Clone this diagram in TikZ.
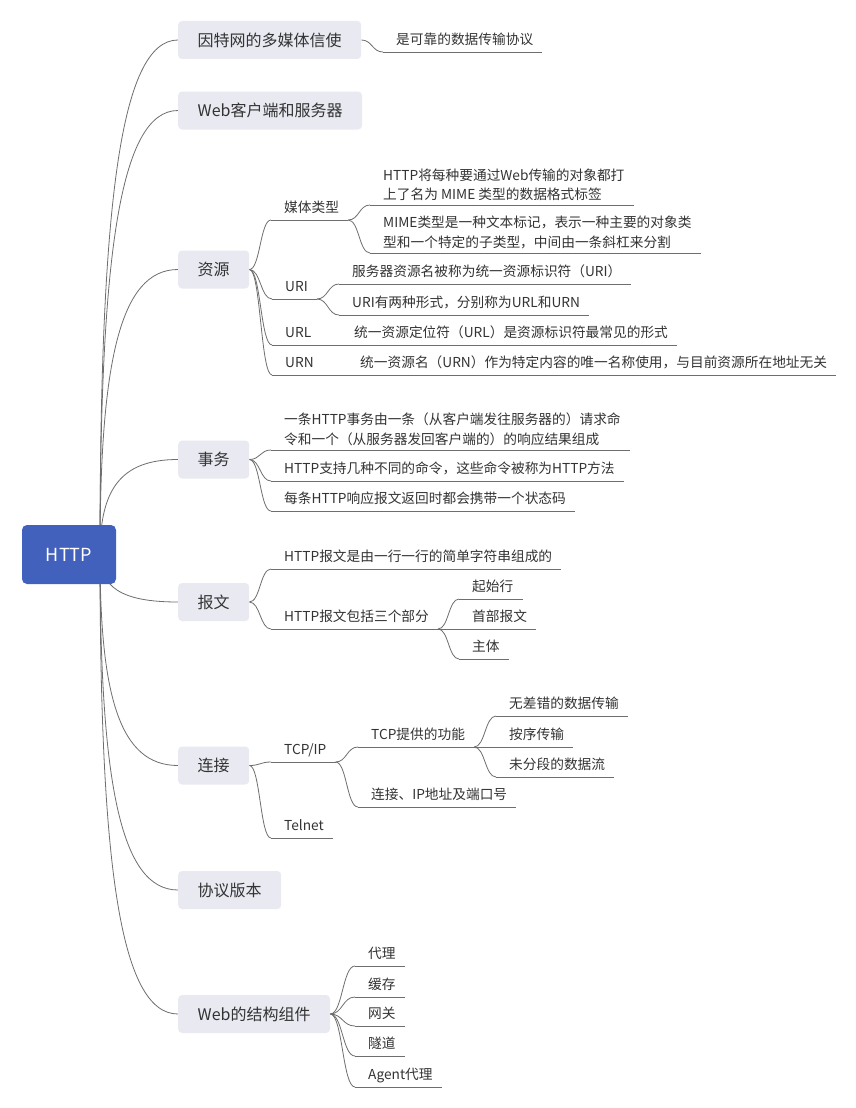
\documentclass[tikz,border=0pt]{standalone}
\usepackage{fontspec}
\setmainfont{Noto Sans CJK SC}
\usetikzlibrary{calc,backgrounds}
\definecolor{rootblue}{RGB}{66,97,189}
\definecolor{topicfill}{RGB}{232,233,241}
\definecolor{linkgray}{RGB}{110,110,110}
\definecolor{ink}{RGB}{51,51,51}

\begin{document}
\begin{tikzpicture}[x=1pt,y=-1pt,
  link/.style={draw=linkgray, line width=0.8pt},
  % main branches: leave the hub vertically, arrive horizontally
  trunk/.style={link, to path={.. controls ($(\tikztostart)!0.67!(\tikztostart|-\tikztotarget)$)
      and ($(\tikztotarget)!0.75!(\tikztotarget-|\tikztostart)$) .. (\tikztotarget)}},
  % sub branches: symmetric S-curve
  twig/.style={link, to path={.. controls ($(\tikztostart)!0.5!(\tikztostart-|\tikztotarget)$)
      and ($(\tikztotarget)!0.5!(\tikztotarget-|\tikztostart)$) .. (\tikztotarget)}},
  rootbox/.style={fill=rootblue, rounded corners=5pt, minimum width=94pt, minimum height=59pt,
      text=white, font=\fontsize{18}{21}\selectfont},
  topic/.style={fill=topicfill, rounded corners=4pt, anchor=west, inner xsep=19.5pt,
      minimum height=38pt, text=ink, font=\fontsize{16}{19}\selectfont},
  leaf/.style={anchor=south west, inner xsep=9pt, inner ysep=4pt, text height=10pt,
      text depth=3pt, text=ink, font=\fontsize{13.7}{19.5}\selectfont,
      execute at begin node=\hspace*{4pt}},
  leaftwo/.style={anchor=south west, inner xsep=9pt, inner ysep=4pt, align=left,
      text=ink, font=\fontsize{13.7}{19.5}\selectfont},
]
\useasboundingbox (0,0) rectangle (855,1108);

% central topic
\node[rootbox] (root) at (69,554.5) {HTTP};
\coordinate (hub) at (100,554);

% main topics
\node[topic] (n1) at (178,40)    {因特网的多媒体信使};
\node[topic] (n2) at (178,110.5) {Web客户端和服务器};
\node[topic] (n3) at (178,269.5) {资源};
\node[topic] (n4) at (178,459.5) {事务};
\node[topic] (n5) at (178,602)   {报文};
\node[topic] (n6) at (178,765.5) {连接};
\node[topic] (n7) at (178,890)   {协议版本};
\node[topic] (n8) at (178,1014)  {Web的结构组件};

% 因特网的多媒体信使
\node[leaf] (c11) at (383,52) {是可靠的数据传输协议};

% 资源
\node[leaf] (r1) at (271,220) {媒体类型};
\node[leaftwo] (r11) at (370,205) {\hspace*{4pt}HTTP将每种要通过Web传输的对象都打\\\hspace*{4pt}上了名为 MIME 类型的数据格式标签};
\node[leaftwo] (r12) at (370,253) {\hspace*{4pt}MIME类型是一种文本标记，表示一种主要的对象类\\\hspace*{4pt}型和一个特定的子类型，中间由一条斜杠来分割};
\node[leaf] (r2) at (272,299) {URI};
\node[leaf] (r21) at (339,284) {服务器资源名被称为统一资源标识符（URI）};
\node[leaf] (r22) at (339,315) {URI有两种形式，分别称为URL和URN};
\node[leaf] (r3) at (272,345) {URL};
\node[leaf] (r31) at (341,345) {统一资源定位符（URL）是资源标识符最常见的形式};
\node[leaf] (r4) at (272,375) {URN};
\node[leaf] (r41) at (347,375) {统一资源名（URN）作为特定内容的唯一名称使用，与目前资源所在地址无关};

% 事务
\node[leaftwo] (t1) at (271,450) {\hspace*{4pt}一条HTTP事务由一条（从客户端发往服务器的）请求命\\\hspace*{4pt}令和一个（从服务器发回客户端的）的响应结果组成};
\node[leaf] (t2) at (271,481) {HTTP支持几种不同的命令，这些命令被称为HTTP方法};
\node[leaf] (t3) at (271,511) {每条HTTP响应报文返回时都会携带一个状态码};

% 报文
\node[leaf] (b1) at (271,569) {HTTP报文是由一行一行的简单字符串组成的};
\node[leaf] (b2) at (271,629) {HTTP报文包括三个部分};
\node[leaf] (b21) at (459,599) {起始行};
\node[leaf] (b22) at (459,629) {首部报文};
\node[leaf] (b23) at (459,659) {主体};

% 连接
\node[leaf] (k1) at (271,762) {TCP/IP};
\node[leaf] (k2) at (271,838) {Telnet};
\node[leaf] (k11) at (358,747) {TCP提供的功能};
\node[leaf] (k12) at (358,807) {连接、IP地址及端口号};
\node[leaf] (k111) at (496,716) {无差错的数据传输};
\node[leaf] (k112) at (496,747) {按序传输};
\node[leaf] (k113) at (496,777) {未分段的数据流};

% Web的结构组件
\node[leaf] (w1) at (355,966)  {代理};
\node[leaf] (w2) at (355,997)  {缓存};
\node[leaf] (w3) at (355,1026) {网关};
\node[leaf] (w4) at (355,1056) {隧道};
\node[leaf] (w5) at (355,1087) {Agent代理};

\begin{scope}[on background layer]
  \fill[white] (0,0) rectangle (855,1108);
  \foreach \n in {n1,n2,n3,n4,n5,n6,n7,n8}
    \draw[trunk] (hub) to (\n.west);
  \draw[twig] (n1.east) to (c11.south west);
  \foreach \c in {r1,r2,r3,r4}
    \draw[twig] (n3.east) to (\c.south west);
  \foreach \c in {r11,r12}
    \draw[twig] (r1.south east) to (\c.south west);
  \foreach \c in {r21,r22}
    \draw[twig] (r2.south east) to (\c.south west);
  \draw[twig] (r3.south east) to (r31.south west);
  \draw[twig] (r4.south east) to (r41.south west);
  \foreach \c in {t1,t2,t3}
    \draw[twig] (n4.east) to (\c.south west);
  \foreach \c in {b1,b2}
    \draw[twig] (n5.east) to (\c.south west);
  \foreach \c in {b21,b22,b23}
    \draw[twig] (b2.south east) to (\c.south west);
  \foreach \c in {k1,k2}
    \draw[twig] (n6.east) to (\c.south west);
  \foreach \c in {k11,k12}
    \draw[twig] (k1.south east) to (\c.south west);
  \foreach \c in {k111,k112,k113}
    \draw[twig] (k11.south east) to (\c.south west);
  \foreach \c in {w1,w2,w3,w4,w5}
    \draw[twig] (n8.east) to (\c.south west);
  % underlines of the text items
  \foreach \c in {c11,r1,r11,r12,r2,r21,r22,r3,r31,r4,r41,t1,t2,t3,b1,b2,b21,b22,b23,
                  k1,k2,k11,k12,k111,k112,k113,w1,w2,w3,w4,w5}
    \draw[link] (\c.south west) -- (\c.south east);
\end{scope}
\end{tikzpicture}
\end{document}
